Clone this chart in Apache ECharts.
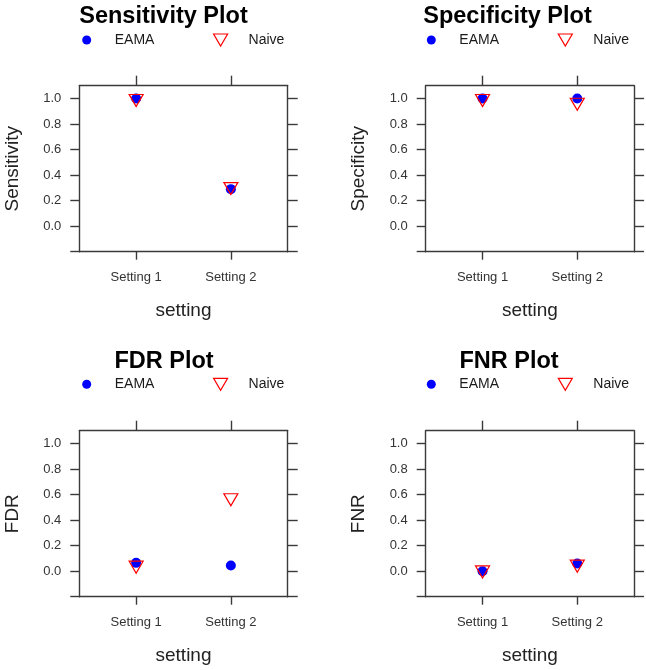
<!DOCTYPE html>
<html>
<head>
<meta charset="utf-8">
<script src="https://cdn.jsdelivr.net/npm/echarts@6/dist/echarts.min.js"></script>
<style>
html,body{margin:0;padding:0;background:#fff;}
#chart{width:646px;height:670px;}
</style>
</head>
<body>
<div id="chart"></div>
<script>
// ---- data ----
const categories = ['Setting 1', 'Setting 2'];
const seriesNames = ['EAMA', 'Naive'];
const panelTitles = ['Sensitivity Plot', 'Specificity Plot', 'FDR Plot', 'FNR Plot'];
const yNames = ['Sensitivity', 'Specificity', 'FDR', 'FNR'];
const xName = 'setting';
const yTickValues = [-0.2, 0, 0.2, 0.4, 0.6, 0.8, 1.0];
const yLabelValues = [0, 0.2, 0.4, 0.6, 0.8, 1.0];

const sensitivityEAMA = [1.0, 0.29];
const sensitivityNaive = [1.0, 0.31];
const specificityEAMA = [1.0, 1.0];
const specificityNaive = [1.0, 0.97];
const fdrEAMA = [0.065, 0.045];
const fdrNaive = [0.047, 0.575];
const fnrEAMA = [0.0, 0.06];
const fnrNaive = [0.01, 0.055];

const panelData = [
  [sensitivityEAMA, sensitivityNaive],
  [specificityEAMA, specificityNaive],
  [fdrEAMA, fdrNaive],
  [fnrEAMA, fnrNaive]
];

// ---- layout / style ----
const FONT = '"Liberation Sans", Arial, sans-serif';
const gridPos = [
  {left: 79.3, top: 85.7},
  {left: 425.7, top: 85.7},
  {left: 79.3, top: 430.7},
  {left: 425.7, top: 430.7}
];
const GW = 208.4, GH = 166;
const titlePos = [[163.5, 17], [507.5, 17], [164, 362], [509, 362]];
const legendRows = [40, 40, 384.3, 384.3];
const legendDotX = [86.7, 431.3, 86.7, 431.3];
const legendTriX = [220, 564.7, 220, 564.7];
const AXIS_COLOR = '#3a3a3a';
const TRI = 'path://M0,0L14,0L7,12Z';
const BLUE = '#0000ff', RED = '#ff0000';

const grids = [], xAxes = [], yAxes = [], series = [], legends = [], graphics = [];

const xFmt = v => categories[Math.round(v) - 1] || '';
const yFmt = v => Number(v).toFixed(1);
const lineStyle = {color: AXIS_COLOR, width: 1.4};

panelData.forEach((pair, p) => {
  grids.push({left: gridPos[p].left, top: gridPos[p].top, width: GW, height: GH,
    show: false, containLabel: false, outerBoundsMode: 'none'});
  const catPos = categories.map((c, i) => i + 1);
  xAxes.push({
    type: 'value', gridIndex: p, position: 'bottom', min: 0.4, max: 2.6,
    axisLine: {show: true, onZero: false, lineStyle},
    axisTick: {show: true, inside: false, length: 8, customValues: catPos, lineStyle},
    axisLabel: {show: true, customValues: catPos, formatter: xFmt, margin: 19.5,
      fontSize: 13, fontFamily: FONT, color: '#333'},
    splitLine: {show: false},
    name: xName, nameLocation: 'middle', nameGap: 50,
    nameTextStyle: {fontSize: 19, fontFamily: FONT, color: '#222'}
  });
  xAxes.push({
    type: 'value', gridIndex: p, position: 'top', min: 0.4, max: 2.6,
    axisLine: {show: true, onZero: false, lineStyle},
    axisTick: {show: true, inside: false, length: 10, customValues: catPos, lineStyle},
    axisLabel: {show: false},
    splitLine: {show: false}
  });
  yAxes.push({
    type: 'value', gridIndex: p, position: 'left', min: -0.2, max: 1.1, interval: 0.2,
    axisLine: {show: true, onZero: false, lineStyle},
    axisTick: {show: true, inside: false, length: 9, customValues: yTickValues, lineStyle},
    axisLabel: {show: true, customValues: yLabelValues, formatter: yFmt, margin: 18,
      fontSize: 13, fontFamily: FONT, color: '#333'},
    splitLine: {show: false},
    name: yNames[p], nameLocation: 'middle', nameGap: 57, nameRotate: 90,
    nameTextStyle: {fontSize: 19, fontFamily: FONT, color: '#222'}
  });
  yAxes.push({
    type: 'value', gridIndex: p, position: 'right', min: -0.2, max: 1.1, interval: 0.2,
    axisLine: {show: true, onZero: false, lineStyle},
    axisTick: {show: true, inside: false, length: 10, customValues: yTickValues, lineStyle},
    axisLabel: {show: false},
    splitLine: {show: false}
  });

  series.push({
    name: seriesNames[0], type: 'scatter', xAxisIndex: 2 * p, yAxisIndex: 2 * p,
    symbol: 'circle', symbolSize: 10,
    itemStyle: {color: BLUE, opacity: 1},
    data: categories.map((c, i) => [i + 1, pair[0][i]]),
    z: 2, silent: true
  });
  series.push({
    name: seriesNames[1], type: 'scatter', xAxisIndex: 2 * p, yAxisIndex: 2 * p,
    symbol: TRI, symbolSize: [14, 12], symbolOffset: [0, 2],
    itemStyle: {color: 'rgba(255,255,255,0)', borderColor: RED, borderWidth: 1.2, opacity: 1},
    data: categories.map((c, i) => [i + 1, pair[1][i]]),
    z: 3, silent: true
  });

  legends.push({
    data: [{name: seriesNames[0], icon: 'circle', itemStyle: {color: BLUE}}],
    left: legendDotX[p] - 4.5, top: legendRows[p] - 7, padding: 0,
    itemWidth: 46, itemHeight: 9, selectedMode: false,
    textStyle: {fontSize: 14, fontFamily: FONT, color: '#1a1a1a'}
  });
  legends.push({
    data: [{name: seriesNames[1], icon: TRI,
      itemStyle: {color: 'rgba(255,255,255,0)', borderColor: RED, borderWidth: 1.2}}],
    left: legendTriX[p] - 7, top: legendRows[p] - 7, padding: 0,
    itemWidth: 46, itemHeight: 12, selectedMode: false, symbolKeepAspect: true,
    textStyle: {fontSize: 14, fontFamily: FONT, color: '#1a1a1a'}
  });

  graphics.push({
    type: 'text', x: titlePos[p][0], y: titlePos[p][1],
    style: {text: panelTitles[p], fontSize: 23.5, fontWeight: 'bold', fontFamily: FONT,
      fill: '#000', align: 'center', verticalAlign: 'middle',
      textAlign: 'center', textVerticalAlign: 'middle'}
  });
});

const chart = echarts.init(document.getElementById('chart'), null, {renderer: 'canvas'});
chart.setOption({
  backgroundColor: '#ffffff',
  animation: false,
  grid: grids,
  xAxis: xAxes,
  yAxis: yAxes,
  legend: legends,
  graphic: graphics,
  series: series
});
</script>
</body>
</html>
